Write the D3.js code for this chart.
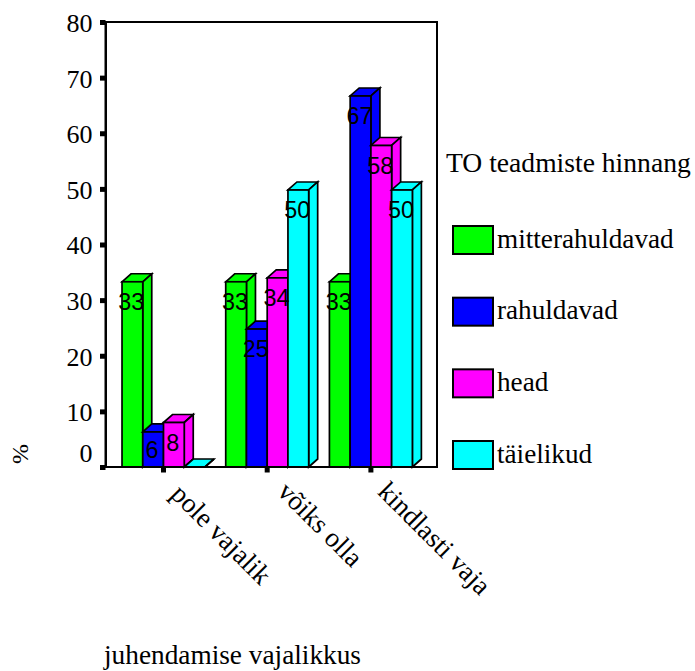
<!DOCTYPE html>
<html><head><meta charset="utf-8">
<script src="https://cdn.jsdelivr.net/npm/d3@7"></script>
<style>html,body{margin:0;padding:0;background:#fff}svg{display:block}</style>
</head><body><svg id="c" width="695" height="671"></svg>
<script>
const categories = ["pole vajalik","võiks olla","kindlasti vaja"];
const seriesNames = ["mitterahuldavad","rahuldavad","head","täielikud"];
const colors = ["#00ff00","#0000ff","#ff00ff","#00ffff"];
const mitterahuldavad = [33.3,33.3,33.3];
const rahuldavad = [6.3,24.8,66.7];
const head = [8,34,57.8];
const taielikud = [0,49.8,49.8];
const labelsA = ["33","33","33"];
const labelsB = ["6","25","67"];
const labelsC = ["8","34","58"];
const labelsD = ["","50","50"];
const yTicks = [0,10,20,30,40,50,60,70,80];
const allValues = [mitterahuldavad,rahuldavad,head,taielikud];
const allLabels = [labelsA,labelsB,labelsC,labelsD];
const svg = d3.select("#c");
const serif = "'Liberation Serif'", sans = "'Liberation Sans'";
const L=105.5,R=437,T=22,B=467,DX=9,DY=8;
const y = d3.scaleLinear().domain([0,80]).range([B,T]);
const x0 = d3.scaleBand().domain(categories).range([111.65,422.75]).paddingInner(0.2).paddingOuter(0.1);
const x1 = d3.scaleBand().domain(seriesNames).range([0,x0.bandwidth()]);
svg.append("rect").attr("x",L).attr("y",T).attr("width",R-L).attr("height",B-T).attr("fill","#fff").attr("stroke","#000").attr("stroke-width",2);
const sw=1.7;
categories.forEach((c,ci)=>{
  seriesNames.forEach((s,si)=>{
    const v=allValues[si][ci];
    const xa=x0(c)+x1(s), w=x1.bandwidth(), yt=y(v), g=svg.append("g");
    const pts=a=>a.map(p=>p.join(",")).join(" ");
    g.append("polygon").attr("points",pts([[xa,yt],[xa+DX,yt-DY],[xa+w+DX,yt-DY],[xa+w,yt]])).attr("fill",colors[si]).attr("stroke","#000").attr("stroke-width",sw);
    g.append("polygon").attr("points",pts([[xa+w,yt],[xa+w+DX,yt-DY],[xa+w+DX,B-DY],[xa+w,B]])).attr("fill",colors[si]).attr("stroke","#000").attr("stroke-width",sw);
    g.append("rect").attr("x",xa).attr("y",yt).attr("width",w).attr("height",B-yt).attr("fill",colors[si]).attr("stroke","#000").attr("stroke-width",sw);
  });
});
// axes
const ya=d3.axisLeft(y).tickValues(yTicks).tickSize(5.5).tickSizeOuter(0).tickPadding(7.5);
const yg=svg.append("g").attr("transform",`translate(${L},0)`).call(ya);
yg.select(".domain").attr("stroke-width",2);
yg.selectAll(".tick line").attr("stroke-width",5).attr("stroke","#000");
yg.selectAll("text").attr("font-family",serif).attr("font-size",26).attr("fill","#000")
  .attr("dy",d=>d===0?"-0.22em":"0.36em");
const xa=d3.axisBottom(x0).tickSize(5.5).tickSizeOuter(0).tickFormat("");
const xg=svg.append("g").attr("transform",`translate(0,${B})`).call(xa);
xg.select(".domain").remove();
xg.selectAll(".tick line").attr("stroke-width",5).attr("stroke","#000");
svg.append("line").attr("x1",L).attr("x2",R).attr("y1",B).attr("y2",B).attr("stroke","#000").attr("stroke-width",2);
// data labels
categories.forEach((c,ci)=>{
  seriesNames.forEach((s,si)=>{
    const t=allLabels[si][ci]; if(!t) return;
    const nudge = allValues[si][ci] < 7 ? -2 : 0;
    svg.append("text").attr("x",x0(c)+x1(s)+x1.bandwidth()/2-1).attr("y",y(allValues[si][ci])+28.4+nudge)
      .attr("text-anchor","middle").attr("font-family",sans).attr("font-size",23.4).attr("fill","#000").text(t);
  });
});
// category labels
const catShiftX=[6,9,5.5], catShiftY=[28.5,26,26];
categories.forEach((c,i)=>{
  svg.append("text").attr("transform",`translate(${x0(c)+x0.bandwidth()/2+catShiftX[i]},${B+catShiftY[i]}) rotate(45)`)
    .attr("font-family",serif).attr("font-size",27.3).attr("fill","#000").text(c);
});
svg.append("text").attr("x",104).attr("y",664).attr("font-family",serif).attr("font-size",27.3).attr("fill","#000").text("juhendamise vajalikkus");
svg.append("text").attr("transform","translate(28,464) rotate(-90)").attr("font-family",serif).attr("font-size",24).attr("fill","#000").text("%");
// legend
svg.append("text").attr("x",446).attr("y",172).attr("font-family",serif).attr("font-size",27.6).attr("fill","#000").text("TO teadmiste hinnang");
const legY=d3.scalePoint().domain(seriesNames).range([240,455]);
seriesNames.forEach((s,i)=>{
  svg.append("rect").attr("x",453).attr("y",legY(s)-14).attr("width",40).attr("height",28).attr("fill",colors[i]).attr("stroke","#000").attr("stroke-width",2);
  svg.append("text").attr("x",497).attr("y",legY(s)+7.5).attr("font-family",serif).attr("font-size",27.2).attr("fill","#000").text(s);
});
</script></body></html>
